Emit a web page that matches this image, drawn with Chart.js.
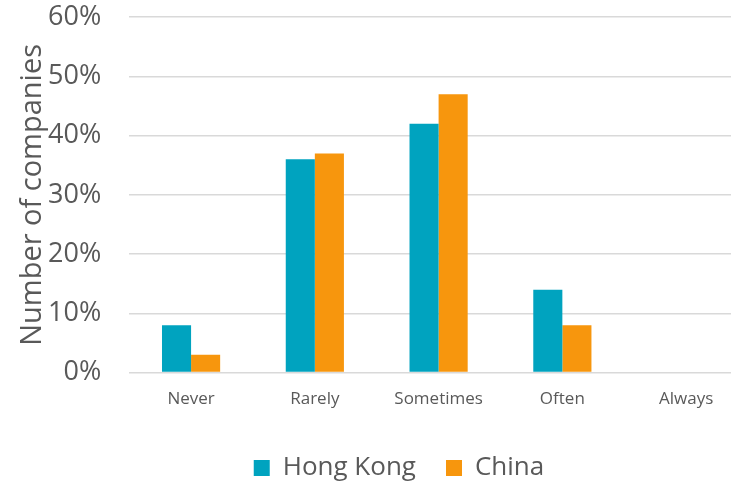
<!DOCTYPE html>
<html><head><meta charset="utf-8">
<script src="https://cdn.jsdelivr.net/npm/chart.js@4/dist/chart.umd.min.js"></script>
<style>
html,body{margin:0;padding:0;background:#fff;overflow:hidden;width:731px;height:482px;}
#wrap{width:796px;height:509px;position:relative;margin-top:-27px;}
</style></head><body>
<div id="wrap"><canvas id="c"></canvas></div>
<script>
const categories = ["Never", "Rarely", "Sometimes", "Often", "Always"];
const hongKong = [8, 36, 42, 14, 0];
const china = [3, 37, 47, 8, 0];
const yTicks = [0, 10, 20, 30, 40, 50, 60];
const FONT = "'Open Sans', 'Noto Sans', sans-serif";
const GREY = "#595959";
const legendShift = {
  id: 'legendShift',
  afterLayout(chart) {
    if (chart.legend) { chart.legend.left += 16; chart.legend.right += 16; }
  }
};
new Chart(document.getElementById('c'), {
  type: 'bar',
  data: {
    labels: categories,
    datasets: [
      {label: "Hong Kong", data: hongKong, backgroundColor: "#00A3BF"},
      {label: "China", data: china, backgroundColor: "#F7960D"}
    ]
  },
  plugins: [legendShift],
  options: {
    responsive: true, maintainAspectRatio: false, animation: false,
    layout: {padding: {left: 18, right: 48, top: 0, bottom: -9}},
    datasets: {bar: {categoryPercentage: 0.47, barPercentage: 1}},
    plugins: {
      legend: {position: 'bottom',
        labels: {font: {family: FONT, size: 26}, color: GREY, boxWidth: 16, boxHeight: 16, padding: 30, useBorderRadius: false},
        padding: {top: 41}},
      tooltip: {enabled: false}
    },
    scales: {
      x: {
        grid: {display: false, drawTicks: false},
        border: {display: false},
        ticks: {font: {family: FONT, size: 17}, color: GREY, padding: 16}
      },
      y: {
        min: 0, max: 60,
        afterBuildTicks: (s) => { s.ticks = yTicks.map(v => ({value: v})); },
        grid: {color: "#d9d9d9", lineWidth: 1.5, drawTicks: false},
        border: {display: false},
        ticks: {font: {family: FONT, size: 27}, color: GREY, padding: 28, callback: v => v + '%'},
        title: {display: true, text: "Number of companies", font: {family: FONT, size: 29, lineHeight: 1}, color: GREY, padding: {top: 0, bottom: -27}}
      }
    }
  }
});
</script>
</body></html>
